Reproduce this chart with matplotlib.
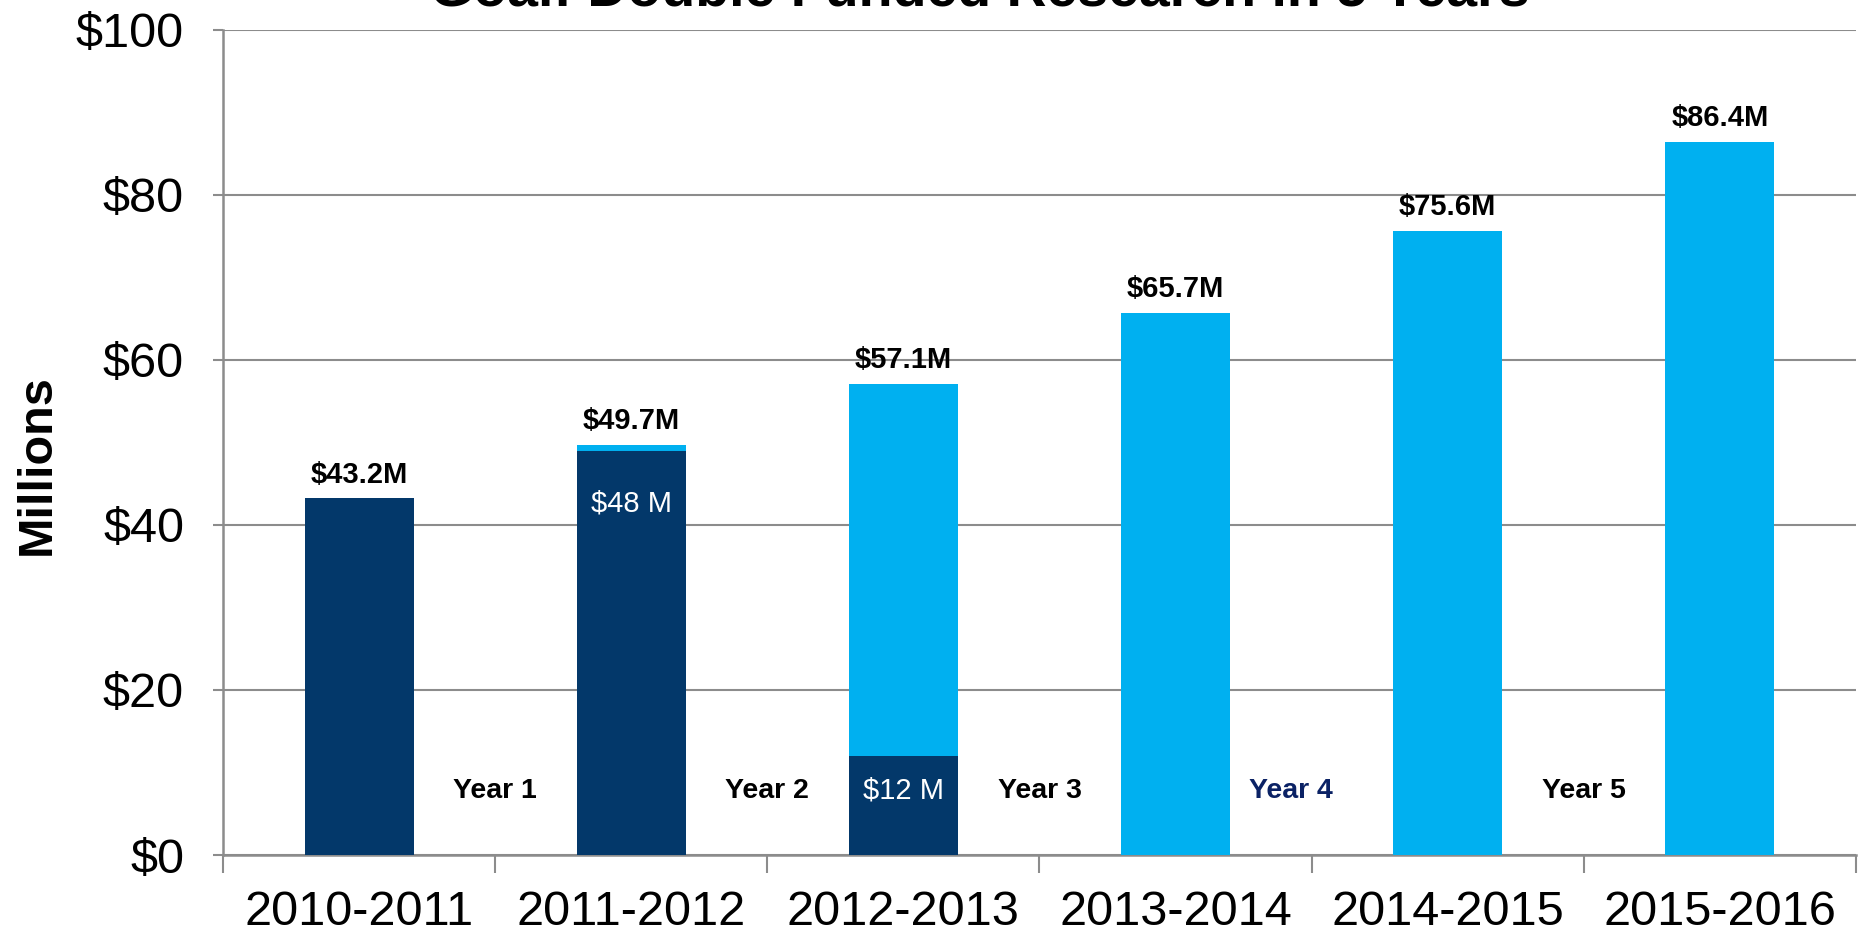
import numpy as np
import matplotlib.pyplot as plt

plt.rcParams['font.family'] = ['Liberation Sans', 'DejaVu Sans']

# data
periods = ['2010-2011', '2011-2012', '2012-2013', '2013-2014', '2014-2015', '2015-2016']
base_funding = [43.2, 48.9, 12.0, 0, 0, 0]          # dark navy part
new_funding = [0, 0.8, 45.1, 65.7, 75.6, 86.4]      # light blue part
totals = [43.2, 49.7, 57.1, 65.7, 75.6, 86.4]
total_labels = ['$43.2M', '$49.7M', '$57.1M', '$65.7M', '$75.6M', '$86.4M']
inner_labels = {1: '$48 M', 2: '$12 M'}
year_labels = ['Year 1', 'Year 2', 'Year 3', 'Year 4', 'Year 5']
y_ticks = [0, 20, 40, 60, 80, 100]

navy = '#03386a'
light = '#00b0f0'
grid_gray = '#8c8c8c'

fig = plt.figure(figsize=(18.62, 9.33), dpi=100)
ax = fig.add_axes([223 / 1862, 1 - 855 / 933, (1856 - 223) / 1862, (855 - 29.7) / 933])

x = np.arange(len(periods))
w = 0.40
ax.bar(x, base_funding, w, color=navy, zorder=3)
ax.bar(x, new_funding, w, bottom=base_funding, color=light, zorder=3)

# totals above bars
for i, (t, lab) in enumerate(zip(totals, total_labels)):
    ax.text(x[i], t + 2.9, lab, ha='center', va='center', fontsize=21,
            fontweight='bold', color='black', zorder=4)

# white labels inside navy part
ax.text(x[1], 42.6, inner_labels[1], ha='center', va='center', fontsize=21,
        color='white', zorder=4)
ax.text(x[2], 7.8, inner_labels[2], ha='center', va='center', fontsize=21,
        color='white', zorder=4)

# year labels between bars
for i, lab in enumerate(year_labels):
    xp = i + 0.5
    col = 'black'
    if lab == 'Year 4':
        xp -= 0.075
        col = '#0b2265'
    ax.text(xp, 7.8, lab, ha='center', va='center', fontsize=20.5,
            fontweight='bold', color=col, zorder=4)

ax.set_xlim(-0.5, len(periods) - 0.5)
ax.set_ylim(0, 100)

ax.set_yticks(y_ticks)
ax.set_yticklabels(['$' + str(v) for v in y_ticks], fontsize=35)
ax.tick_params(axis='y', length=7, width=1.5, color=grid_gray, pad=21)

ax.set_xticks(x)
ax.set_xticklabels(periods, fontsize=35)
ax.set_xticks(np.arange(-0.5, len(periods), 1), minor=True)
ax.tick_params(axis='x', which='major', length=0, pad=25)
ax.tick_params(axis='x', which='minor', length=13, width=1.5, color=grid_gray)

ax.yaxis.grid(True, color=grid_gray, linewidth=1.5, zorder=0)
ax.set_axisbelow(True)
for s in ['top', 'right']:
    ax.spines[s].set_visible(False)
for s in ['left', 'bottom']:
    ax.spines[s].set_color(grid_gray)
    ax.spines[s].set_linewidth(1.8)

ax.set_ylabel('Millions', fontsize=35, fontweight='bold', va='center')
ax.yaxis.set_label_coords(-0.114, 0.473)

fig.text(980 / 1862, 1 - 6 / 933, 'Goal: Double Funded Research in 5 Years',
         ha='center', va='baseline', fontsize=40, fontweight='bold')

fig.savefig('out.png', dpi=100)
